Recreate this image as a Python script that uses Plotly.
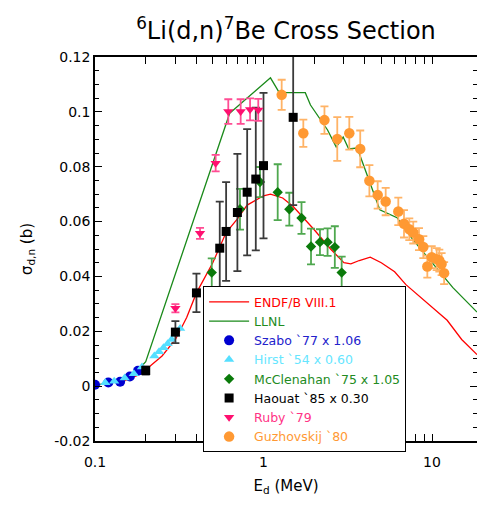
import plotly.graph_objects as go

# ---------------- data ----------------
endf_E = [0.1, 0.12, 0.15, 0.18, 0.2, 0.25, 0.3, 0.35, 0.4, 0.5, 0.6, 0.7, 0.8, 1.0, 1.1, 1.3, 1.5, 2.0, 2.5, 3.0, 3.3, 3.7, 4.3, 5.0, 6.0, 7.0, 10.0, 12.3, 15.0, 18.5]
endf_s = [0.0003, 0.001, 0.002, 0.004, 0.006, 0.011, 0.017, 0.025, 0.034, 0.045, 0.056, 0.061, 0.066, 0.0694, 0.070, 0.0686, 0.0655, 0.057, 0.050, 0.045, 0.0446, 0.0458, 0.047, 0.045, 0.0417, 0.037, 0.029, 0.024, 0.017, 0.0115]

llnl_E = [0.1, 0.12, 0.15, 0.18, 0.2, 0.63, 0.65, 1.1, 1.24, 1.77, 1.9, 2.4, 2.7, 2.97, 3.2, 3.6, 4.9, 6.2, 7.7, 13.3, 18.5]
llnl_s = [0.0003, 0.0012, 0.003, 0.0058, 0.0089, 0.0995, 0.1002, 0.1124, 0.107, 0.107, 0.1025, 0.0934, 0.0872, 0.0908, 0.0865, 0.0868, 0.0643, 0.0614, 0.0534, 0.0359, 0.027]

szabo_E = [0.1, 0.12, 0.141, 0.161, 0.18]
szabo_s = [0.0005, 0.0013, 0.0016, 0.0035, 0.0056]

hirst_E = [0.115, 0.13, 0.15, 0.17, 0.19, 0.225, 0.24, 0.255, 0.27, 0.285, 0.3, 0.32]
hirst_s = [0.0012, 0.0018, 0.003, 0.0045, 0.007, 0.011, 0.0125, 0.014, 0.0155, 0.017, 0.019, 0.021]

mccl_E = [0.493, 0.725, 0.953, 1.214, 1.423, 1.681, 1.914, 2.163, 2.40, 2.65, 2.91]
mccl_s = [0.0414, 0.0645, 0.0744, 0.0707, 0.0645, 0.0613, 0.0509, 0.0525, 0.0525, 0.0507, 0.0414]
mccl_err = [0.0052, 0.0074, 0.0055, 0.0102, 0.006, 0.0058, 0.0065, 0.0047, 0.005, 0.0076, 0.0058]

haouat_E = [0.2, 0.3, 0.4, 0.55, 0.6, 0.7, 0.8, 0.9, 1.0, 1.5]
haouat_s = [0.0057, 0.0197, 0.034, 0.0503, 0.0564, 0.0633, 0.0707, 0.0755, 0.0804, 0.098]
haouat_err = [0.0015, 0.004, 0.007, 0.017, 0.018, 0.0214, 0.023, 0.026, 0.0265, 0.032]

ruby_E = [0.30, 0.42, 0.52, 0.618, 0.732, 0.832, 0.931]
ruby_s = [0.0284, 0.0557, 0.0813, 0.1001, 0.1001, 0.1009, 0.1007]
ruby_err = [0.0015, 0.002, 0.003, 0.0045, 0.0045, 0.004, 0.004]

guz_E = [1.282, 1.723, 2.3, 2.74, 3.23, 3.75, 4.25, 4.76, 5.31, 6.31, 6.82, 7.33, 7.74, 8.37, 8.88, 9.38, 9.96, 10.66, 11.05, 11.4, 11.8]
guz_s = [0.1062, 0.0922, 0.097, 0.0901, 0.0922, 0.0865, 0.0749, 0.0697, 0.0673, 0.0637, 0.0592, 0.0572, 0.056, 0.0536, 0.0507, 0.0436, 0.047, 0.0463, 0.0458, 0.0445, 0.0412]
guz_err = [0.0055, 0.005, 0.005, 0.008, 0.006, 0.0067, 0.0057, 0.005, 0.005, 0.005, 0.005, 0.004, 0.004, 0.004, 0.004, 0.004, 0.004, 0.004, 0.004, 0.004, 0.004]

x_tickvals = [0.1, 1, 10]
x_ticktext = ["0.1", "1", "10"]
y_tickvals = [-0.02, 0, 0.02, 0.04, 0.06, 0.08, 0.1, 0.12]
y_ticktext = ["-0.02", "0", "0.02", "0.04", "0.06", "0.08", "0.1", "0.12"]

FONT = "DejaVu Sans"

def lab(text, color):
    return f"<span style='color:{color}'>{text}</span>"

fig = go.Figure()

fig.add_trace(go.Scatter(x=endf_E, y=endf_s, mode="lines", line=dict(color="#ff0000", width=1.3),
                         name=lab("ENDF/B VIII.1", "#ff0000")))
fig.add_trace(go.Scatter(x=llnl_E, y=llnl_s, mode="lines", line=dict(color="#1a8a1a", width=1.3),
                         name=lab("LLNL", "#1e8c1e")))
fig.add_trace(go.Scatter(x=szabo_E, y=szabo_s, mode="markers",
                         marker=dict(symbol="circle", size=10, color="#0000d0"),
                         name=lab("Szabo `77 x 1.06", "#2222cc")))
fig.add_trace(go.Scatter(x=hirst_E, y=hirst_s, mode="markers",
                         marker=dict(symbol="triangle-up", size=9, color="#55dfff"),
                         name=lab("Hirst `54 x 0.60", "#66e6ff")))
fig.add_trace(go.Scatter(x=mccl_E, y=mccl_s, mode="markers",
                         marker=dict(symbol="diamond", size=8, color="#0a7a0a"),
                         error_y=dict(type="data", array=mccl_err, color="#4fa84f", thickness=1.8, width=4),
                         name=lab("McClenahan `75 x 1.05", "#228b22")))
fig.add_trace(go.Scatter(x=haouat_E, y=haouat_s, mode="markers",
                         marker=dict(symbol="square", size=9, color="#000000"),
                         error_y=dict(type="data", array=haouat_err, color="#3a3a3a", thickness=1.8, width=4),
                         name=lab("Haouat `85 x 0.30", "#000000")))
fig.add_trace(go.Scatter(x=ruby_E, y=ruby_s, mode="markers",
                         marker=dict(symbol="triangle-down", size=9, color="#ff1070"),
                         error_y=dict(type="data", array=ruby_err, color="#ff4d94", thickness=1.8, width=4),
                         name=lab("Ruby `79", "#ff3385")))
fig.add_trace(go.Scatter(x=guz_E, y=guz_s, mode="markers",
                         marker=dict(symbol="circle", size=10.5, color="#ff9933"),
                         error_y=dict(type="data", array=guz_err, color="#ffb366", thickness=1.8, width=4),
                         name=lab("Guzhovskij `80", "#ff9933")))
# empty trace that only carries the right-hand tick axis
fig.add_trace(go.Scatter(x=[], y=[], yaxis="y2", showlegend=False, hoverinfo="skip"))

fig.update_layout(
    width=477, height=505,
    margin=dict(l=95, r=0, t=57, b=64),
    paper_bgcolor="white", plot_bgcolor="white",
    font=dict(family=FONT, size=14, color="black"),
    title=dict(text="<sup>6</sup>Li(d,n)<sup>7</sup>Be Cross Section", x=0.5, xref="paper",
               xanchor="center", y=0.94, yref="container", yanchor="middle",
               font=dict(family=FONT, size=24, color="black")),
    showlegend=True,
    legend=dict(x=0.283, y=0.403, xanchor="left", yanchor="top", bgcolor="white",
                bordercolor="black", borderwidth=1, font=dict(family=FONT, size=12.5),
                itemwidth=40, tracegroupgap=0),
    yaxis2=dict(overlaying="y", side="right", anchor="x", range=[-0.02, 0.12],
                tickvals=y_tickvals, showticklabels=False, ticks="inside", ticklen=7,
                tickcolor="black", showline=False, showgrid=False, zeroline=False,
                minor=dict(ticks="inside", ticklen=4, tickcolor="black", dtick=0.005, showgrid=False)),
)

fig.update_xaxes(type="log", range=[-1, 1.267], tickvals=x_tickvals, ticktext=x_ticktext,
                 ticks="inside", ticklen=7, tickcolor="black", showline=True, linecolor="black",
                 linewidth=1.5, mirror="allticks", showgrid=False, zeroline=False,
                 minor=dict(ticks="inside", ticklen=4, tickcolor="black", dtick="D1", showgrid=False),
                 ticklabelstandoff=7,
                 title=dict(text="E<sub>d</sub> (MeV)", font=dict(family=FONT, size=15), standoff=12),
                 tickfont=dict(family=FONT, size=14))
fig.layout.yaxis.update(range=[-0.02, 0.12], tickvals=y_tickvals, ticktext=y_ticktext,
                 ticks="inside", ticklen=7, tickcolor="black", showline=True, linecolor="black",
                 linewidth=1.5, mirror=False, showgrid=False, zeroline=False,
                 minor=dict(ticks="inside", ticklen=4, tickcolor="black", dtick=0.005, showgrid=False),
                 title=dict(text="σ<sub>d,n</sub> (b)", font=dict(family=FONT, size=15), standoff=18),
                 tickfont=dict(family=FONT, size=14))

fig.write_html("out.html")
